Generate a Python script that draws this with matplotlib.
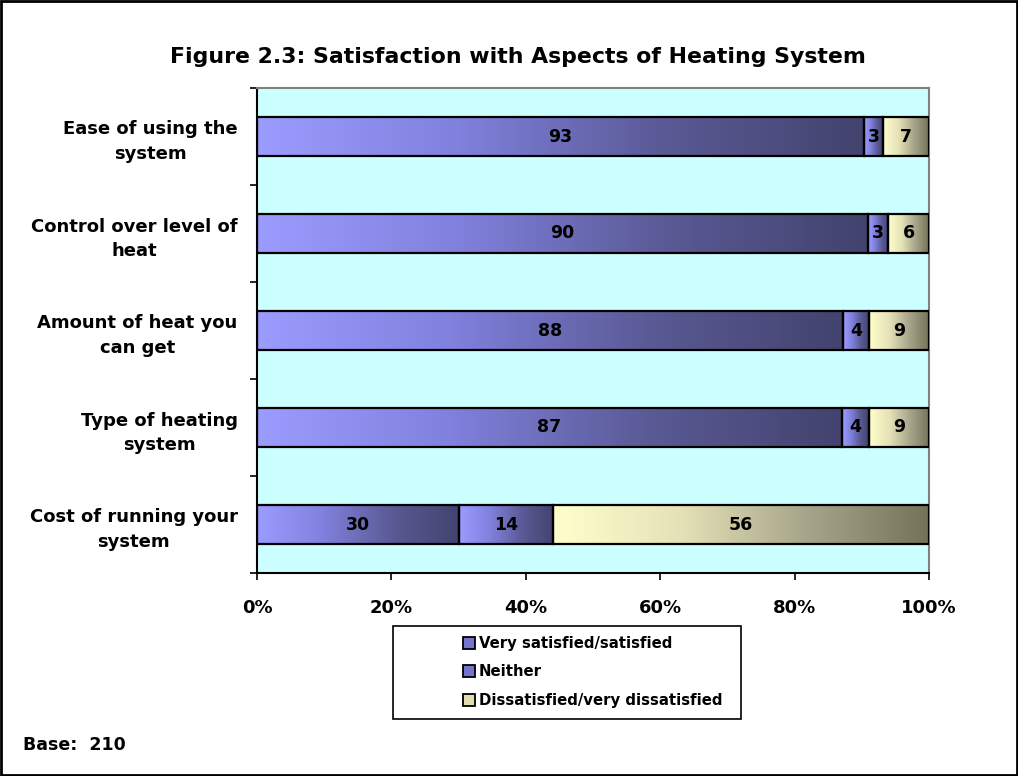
import numpy as np
import matplotlib
matplotlib.use("Agg")
import matplotlib.pyplot as plt
from matplotlib.patches import Rectangle
from matplotlib.colors import LinearSegmentedColormap
from matplotlib.lines import Line2D

plt.rcParams['font.family'] = ['DejaVu Sans']

categories = ["Ease of using the\nsystem", "Control over level of\nheat",
              "Amount of heat you\ncan get", "Type of heating\nsystem",
              "Cost of running your\nsystem"]
satisfied = [93, 90, 88, 87, 30]
neither = [3, 3, 4, 4, 14]
dissatisfied = [7, 6, 9, 9, 56]
series_names = ["Very satisfied/satisfied", "Neither", "Dissatisfied/very dissatisfied"]
xtick_labels = ["0%", "20%", "40%", "60%", "80%", "100%"]

grad_purple = LinearSegmentedColormap.from_list("p", ["#9C9CFF", "#8080DD", "#5A5A96", "#43436E"])
grad_cream = LinearSegmentedColormap.from_list("c", ["#FFFFCC", "#E6E2B8", "#A8A68A", "#74735A"])
cmaps = [grad_purple, grad_purple, grad_cream]

W, H = 1018, 776
fig = plt.figure(figsize=(W/100, H/100), dpi=100)
ax = fig.add_axes([257/W, 1-573/H, 672/W, 485/H])
ax.set_facecolor("#CCFFFF")

n = len(categories)
ys = np.arange(n)[::-1]  # first category on top
h = 0.4
grad = np.linspace(0, 1, 256).reshape(1, -1)

for i in range(n):
    vals = [satisfied[i], neither[i], dissatisfied[i]]
    tot = sum(vals)
    left = 0.0
    for j, v in enumerate(vals):
        w = v / tot * 100
        y = ys[i]
        ax.imshow(grad, cmap=cmaps[j], aspect='auto',
                  extent=[left, left + w, y - h/2, y + h/2], zorder=2,
                  interpolation='bilinear')
        ax.add_patch(Rectangle((left, y - h/2), w, h, fill=False,
                               edgecolor='black', lw=1.6, zorder=3))
        ax.text(left + w/2, y, str(v), ha='center', va='center',
                fontsize=12.5, fontweight='bold', color='black', zorder=4)
        left += w

ax.set_xlim(0, 100)
ax.set_ylim(-0.5, n - 0.5)
ax.set_xticks(np.linspace(0, 100, 6))
ax.set_xticklabels(xtick_labels, fontsize=13, fontweight='bold')
ax.tick_params(axis='x', length=5, width=1.2, direction='out', pad=14)

ax.set_yticks(np.arange(n + 1) - 0.5)
ax.set_yticklabels([])
ax.set_yticks(ys, minor=True)
ax.set_yticklabels(categories, minor=True, fontsize=13, fontweight='bold',
                   ha='right', multialignment='center', linespacing=1.45)
ax.tick_params(axis='y', which='major', length=5, width=1.2, direction='out')
ax.tick_params(axis='y', which='minor', length=0, pad=14)

for s in ['top', 'right']:
    ax.spines[s].set_color('#808080')
    ax.spines[s].set_linewidth(1.5)
for s in ['left', 'bottom']:
    ax.spines[s].set_color('black')
    ax.spines[s].set_linewidth(1.5)

fig.text(518/W, 1-63/H, "Figure 2.3: Satisfaction with Aspects of Heating System",
         ha='center', va='baseline', fontsize=15.8, fontweight='bold')
fig.text(23/W, 1-750/H, "Base:  210", ha='left', va='baseline',
         fontsize=12.5, fontweight='bold')

# legend
fig.patches.append(Rectangle((393/W, 1-719/H), 348/W, 93/H,
                             transform=fig.transFigure, fill=False,
                             edgecolor='black', lw=1.2))
handles = [Line2D([], [], marker='s', linestyle='none', markersize=8.5,
                  markerfacecolor=c, markeredgecolor='black', markeredgewidth=1.3)
           for c in ["#7474CC", "#7474CC", "#E0DDB0"]]
fig.legend(handles, series_names, loc='center left',
           bbox_to_anchor=(455/W, 1-672/H), frameon=False,
           prop={'weight': 'bold', 'size': 10.7}, handletextpad=0.2,
           labelspacing=0.9, borderpad=0, handlelength=0.9)

fig.patches.append(Rectangle((0.001, 0.001), 0.998, 0.998, transform=fig.transFigure,
                             fill=False, edgecolor='black', lw=2))

fig.savefig("out.png", dpi=100)
